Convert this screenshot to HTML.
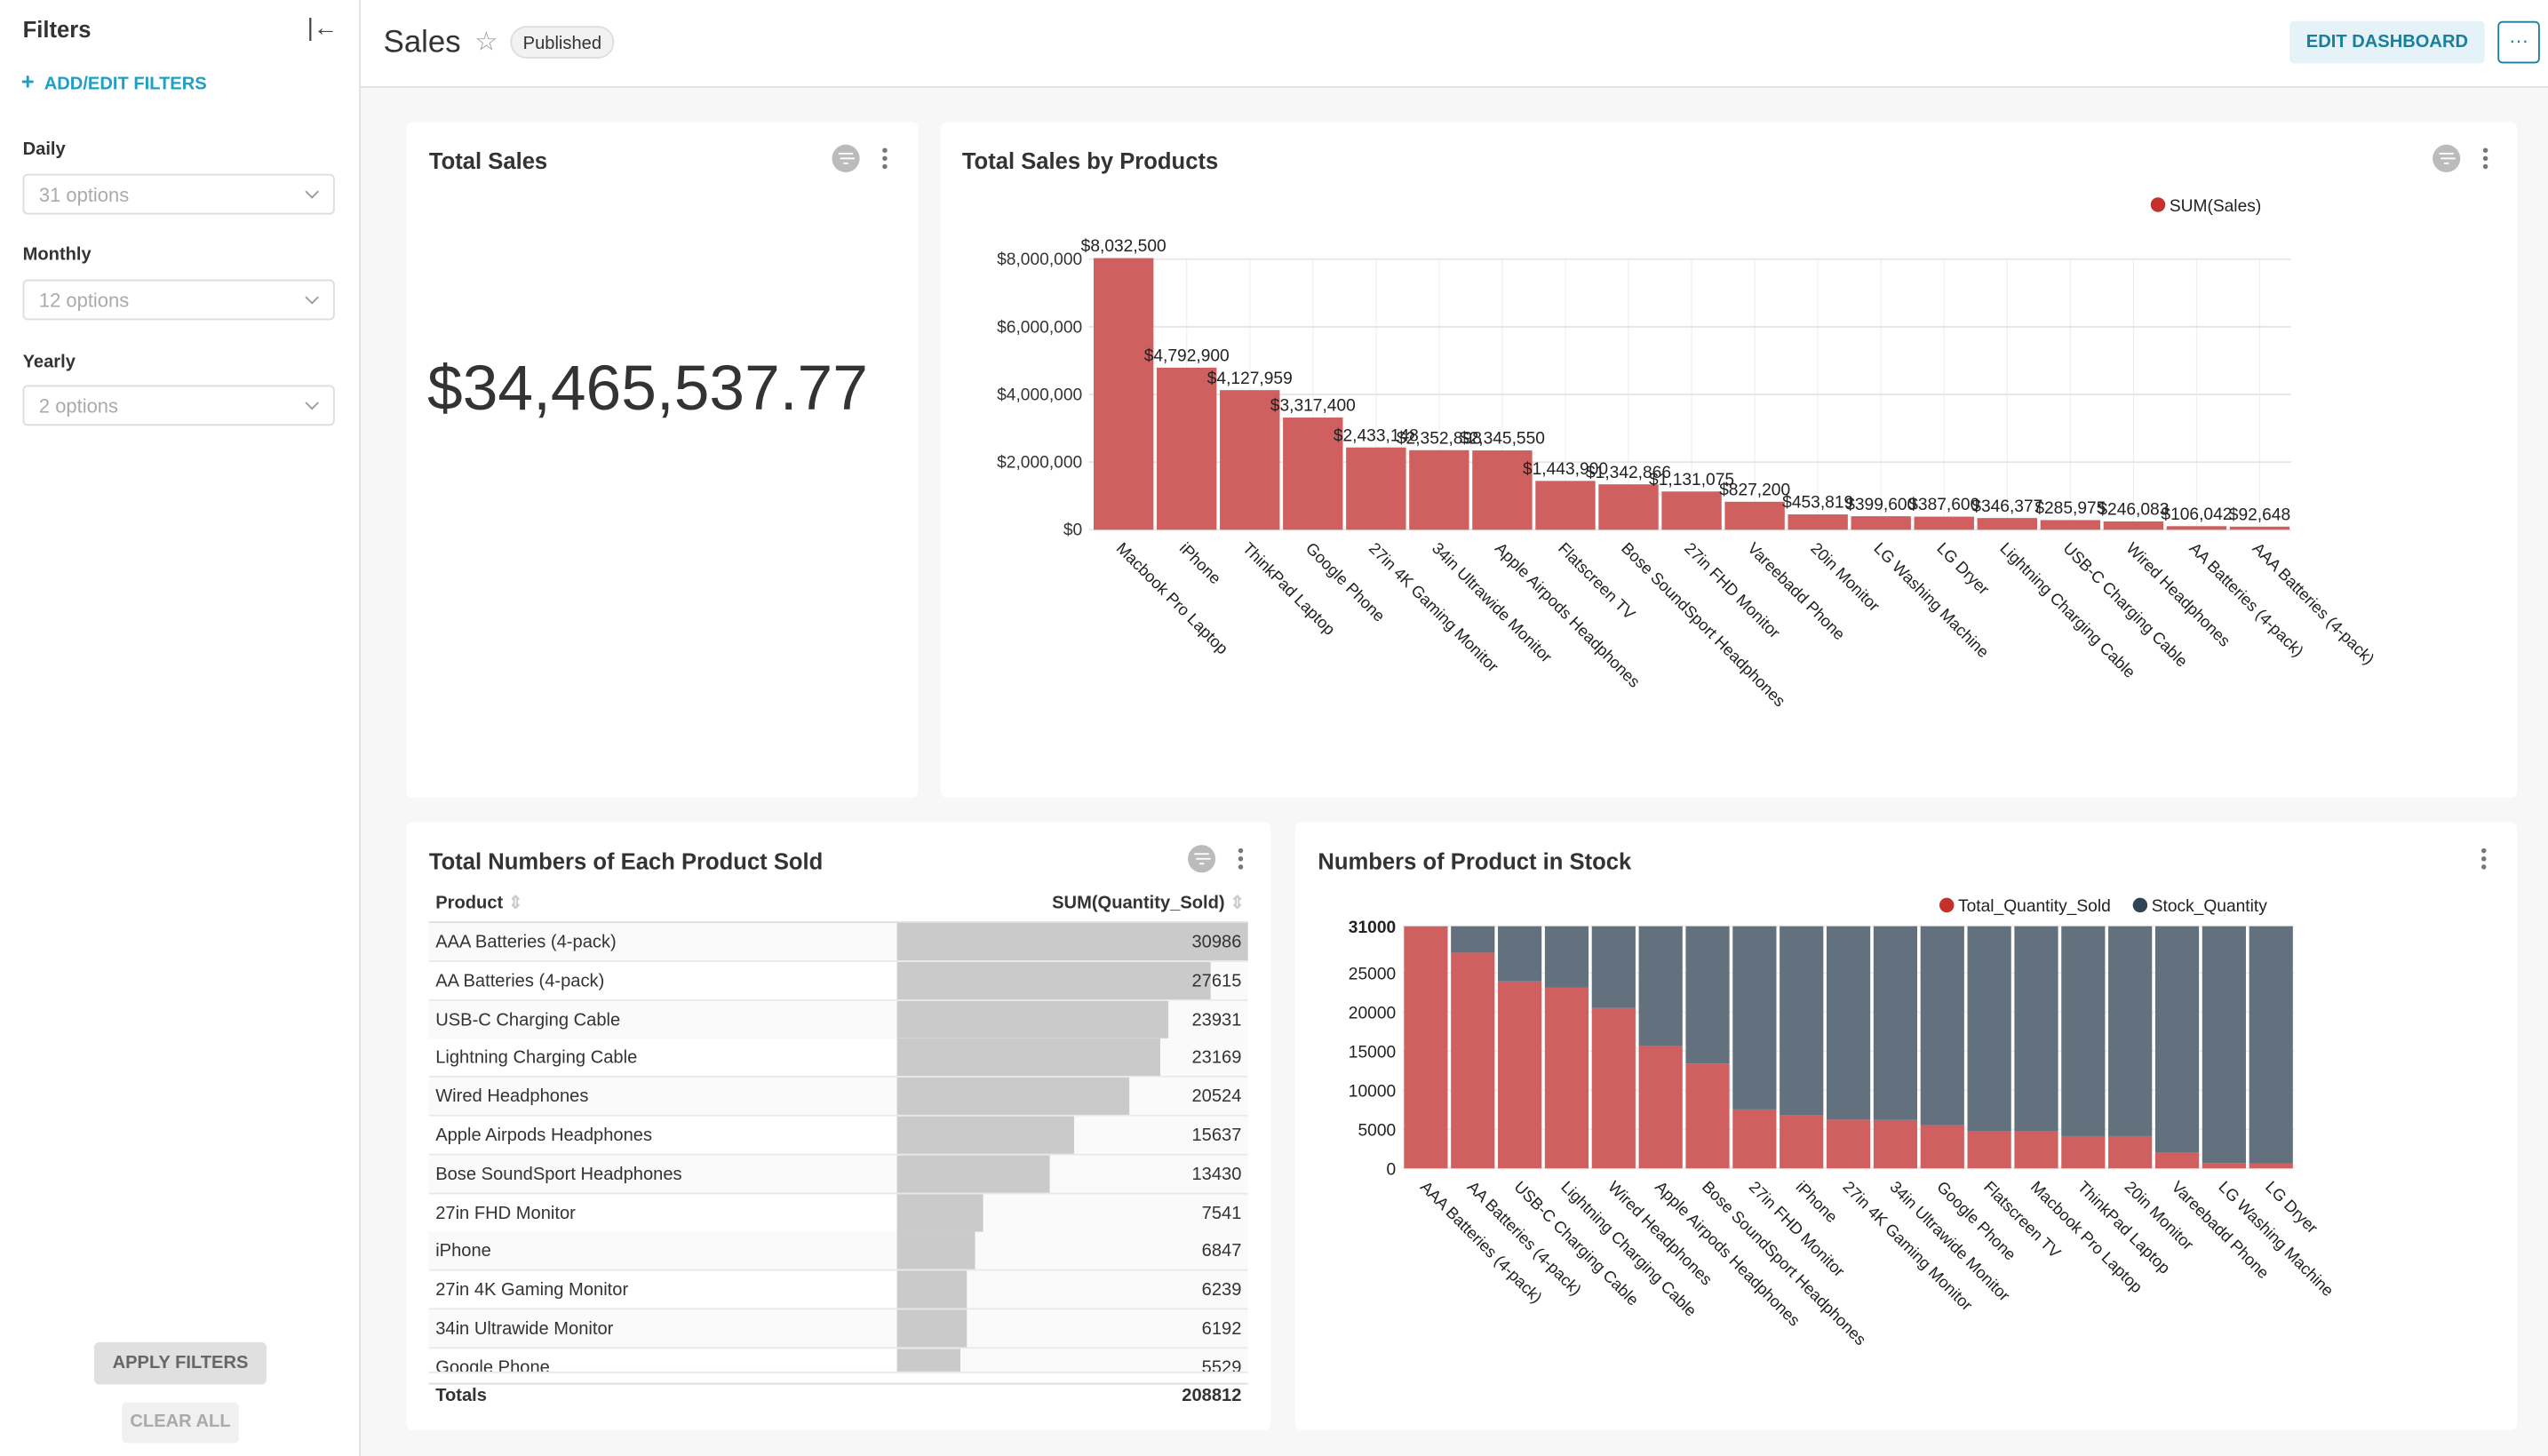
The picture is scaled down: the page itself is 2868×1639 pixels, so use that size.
<!DOCTYPE html>
<html><head><meta charset="utf-8">
<style>
html,body{margin:0;padding:0;width:2868px;height:1639px;overflow:hidden;background:#f7f7f7;font-family:"Liberation Sans",sans-serif;}
#root{position:absolute;left:0;top:0;width:1568px;height:896px;transform:scale(1.82908,1.82924);transform-origin:0 0;background:#f7f7f7;}
.abs{position:absolute;}
.card{position:absolute;background:#fff;border-radius:4px;}
.title{position:absolute;font-size:14px;font-weight:bold;color:#333;}
.sel{position:absolute;left:14px;width:192px;height:25px;border:1px solid #ddd;border-radius:3px;background:#fff;font-size:12px;color:#aaa;box-sizing:border-box;padding:5px 9px;}
.sel:after{content:"";position:absolute;right:10px;top:7px;width:5px;height:5px;border-right:1px solid #999;border-bottom:1px solid #999;transform:rotate(45deg);}
.lab{position:absolute;left:14px;font-size:11px;font-weight:bold;color:#333;}
.dots{position:absolute;width:3px;}
.dots i{display:block;width:3px;height:3px;border-radius:50%;background:#777;margin-bottom:2px;}
.ficon{position:absolute;width:17px;height:17px;border-radius:50%;background:#bbb;}
.ficon:before{content:"";position:absolute;left:4px;top:5px;width:9px;height:1.3px;background:#fff;box-shadow:1px 3px 0 -0px #fff;}
.ficon:after{content:"";position:absolute;left:7px;top:11px;width:3px;height:1.3px;background:#fff;}
.row{position:absolute;left:264px;width:504px;height:23px;border-bottom:1px solid #e8e8e8;font-size:11px;color:#333;}
</style></head><body>
<div id="root">
<div class="abs" style="left:0;top:0;width:221px;height:896px;background:#fff;border-right:1px solid #e0e0e0;">
  <div class="abs" style="left:14px;top:10px;font-size:14px;font-weight:bold;color:#333;">Filters</div>
  <div class="abs" style="left:189px;top:9px;font-size:15px;color:#444;">|&#8592;</div>
  <div class="abs" style="left:13px;top:42px;font-size:11px;font-weight:bold;color:#1f9fc4;"><span style="font-size:14px;margin-right:6px;">+</span>ADD/EDIT FILTERS</div>
  <div class="lab" style="top:86px;">Daily</div>
  <div class="sel" style="top:107px;">31 options</div>
  <div class="lab" style="top:151px;">Monthly</div>
  <div class="sel" style="top:172px;">12 options</div>
  <div class="lab" style="top:217px;">Yearly</div>
  <div class="sel" style="top:237px;">2 options</div>
  <div class="abs" style="left:58px;top:826px;width:106px;height:26px;background:#e0e0e0;border-radius:3px;font-size:11px;font-weight:bold;color:#666;text-align:center;line-height:26px;">APPLY FILTERS</div>
  <div class="abs" style="left:75px;top:863px;width:72px;height:25px;background:#f0f0f0;border-radius:3px;font-size:11px;font-weight:bold;color:#aaa;text-align:center;line-height:25px;">CLEAR ALL</div>
</div>
<div class="abs" style="left:222px;top:0;width:1346px;height:53px;background:#fff;border-bottom:1px solid #e0e0e0;">
  <div class="abs" style="left:14px;top:16px;font-size:19px;color:#333;">Sales</div>
  <div class="abs" style="left:70px;top:16px;font-size:16px;color:#999;">&#9734;</div>
  <div class="abs" style="left:92px;top:16px;width:64px;height:20px;border:1px solid #ddd;background:#f2f2f2;border-radius:10px;font-size:11px;color:#333;text-align:center;line-height:20px;box-sizing:border-box;">Published</div>
  <div class="abs" style="left:1187px;top:13px;width:120px;height:26px;background:#e5f3f8;border-radius:3px;font-size:11px;font-weight:bold;color:#1a7f9e;text-align:center;line-height:26px;">EDIT DASHBOARD</div>
  <div class="abs" style="left:1315px;top:13px;width:26px;height:26px;border:1px solid #1a7f9e;border-radius:3px;box-sizing:border-box;font-size:12px;color:#1a7f9e;text-align:center;line-height:22px;">&#183;&#183;&#183;</div>
</div>
<div class="card" style="left:250px;top:75px;width:315px;height:416px;">
  <div class="title" style="left:14px;top:16px;">Total Sales</div>
  <div class="ficon" style="left:262px;top:14px;"></div>
  <div class="dots" style="left:293px;top:16px;"><i></i><i></i><i></i></div>
  <div class="abs" style="left:13px;top:143px;font-size:39px;color:#333;">$34,465,537.77</div>
</div>
<div class="card" style="left:579px;top:75px;width:970px;height:416px;">
  <div class="title" style="left:13px;top:16px;">Total Sales by Products</div>
  <div class="ficon" style="left:918px;top:14px;"></div>
  <div class="dots" style="left:949px;top:16px;"><i></i><i></i><i></i></div>
</div>
<div class="card" style="left:250px;top:506px;width:532px;height:374px;overflow:hidden;">
  <div class="title" style="left:14px;top:16px;">Total Numbers of Each Product Sold</div>
  <div class="ficon" style="left:481px;top:14px;"></div>
  <div class="dots" style="left:512px;top:16px;"><i></i><i></i><i></i></div>
</div>
<div id="tbl"></div>
<div class="card" style="left:797px;top:506px;width:752px;height:374px;">
  <div class="title" style="left:14px;top:16px;">Numbers of Product in Stock</div>
  <div class="dots" style="left:730px;top:16px;"><i></i><i></i><i></i></div>
</div>
<svg id="svg" class="abs" style="left:0;top:0;" width="1568" height="896"></svg>
</div>
<script>
const salesCats=["Macbook Pro Laptop","iPhone","ThinkPad Laptop","Google Phone","27in 4K Gaming Monitor","34in Ultrawide Monitor","Apple Airpods Headphones","Flatscreen TV","Bose SoundSport Headphones","27in FHD Monitor","Vareebadd Phone","20in Monitor","LG Washing Machine","LG Dryer","Lightning Charging Cable","USB-C Charging Cable","Wired Headphones","AA Batteries (4-pack)","AAA Batteries (4-pack)"];
const salesVals=[8032500,4792900,4127959,3317400,2433148,2352898,2345550,1443900,1342866,1131075,827200,453819,399600,387600,346377,285975,246083,106042,92648];
const salesTicks=[0,2000000,4000000,6000000,8000000];
const tableCats=["AAA Batteries (4-pack)","AA Batteries (4-pack)","USB-C Charging Cable","Lightning Charging Cable","Wired Headphones","Apple Airpods Headphones","Bose SoundSport Headphones","27in FHD Monitor","iPhone","27in 4K Gaming Monitor","34in Ultrawide Monitor","Google Phone"];
const tableVals=[30986,27615,23931,23169,20524,15637,13430,7541,6847,6239,6192,5529];
const stockCats=["AAA Batteries (4-pack)","AA Batteries (4-pack)","USB-C Charging Cable","Lightning Charging Cable","Wired Headphones","Apple Airpods Headphones","Bose SoundSport Headphones","27in FHD Monitor","iPhone","27in 4K Gaming Monitor","34in Ultrawide Monitor","Google Phone","Flatscreen TV","Macbook Pro Laptop","ThinkPad Laptop","20in Monitor","Vareebadd Phone","LG Washing Machine","LG Dryer"];
const soldVals=[30986,27615,23931,23169,20524,15637,13430,7541,6847,6239,6192,5529,4800,4728,4130,4129,2068,666,646];
const stockVals=[14,3385,7069,7831,10476,15363,17570,23459,24153,24761,24808,25471,26200,26272,26870,26871,28932,30334,30354];
const stockTicks=[0,5000,10000,15000,20000,25000,31000];

const NS="http://www.w3.org/2000/svg";
const svg=document.getElementById('svg');
function mk(tag,attrs,parent){const e=document.createElementNS(NS,tag);for(const k in attrs)e.setAttribute(k,attrs[k]);(parent||svg).appendChild(e);return e;}
function fmt(v){return "$"+v.toLocaleString("en-US");}

const sx0=672,sx1=1410,sy0=326,sy1=159.5,smax=8000000;
const sY=v=>sy0-(v/smax)*(sy0-sy1);
const sBW=(sx1-sx0)/salesCats.length;
const sX=i=>sx0+i*sBW;
for(let i=0;i<salesCats.length;i++){const l=mk('line',{x1:sX(i)+sBW/2,x2:sX(i)+sBW/2,y1:sy1,y2:sy0,stroke:'#eee','stroke-width':0.6});

}
salesTicks.forEach(t=>{const l=mk('line',{x1:sx0-2,x2:sx1,y1:sY(t),y2:sY(t),stroke:'#e6e6e6','stroke-width':1});


const tx=mk('text',{x:sx0-6,y:sY(t)+3.5,'text-anchor':'end','font-size':10.5,fill:'#333'});tx.textContent=fmt(t);

});
salesVals.forEach((v,i)=>{const r=mk('rect',{x:sX(i)+1,y:sY(v),width:sBW-2,height:sy0-sY(v),fill:'#d0605f'});


const t=mk('text',{x:sX(i)+sBW/2,y:sY(v)-4,'text-anchor':'middle','font-size':10.5,fill:'#222'});t.textContent=fmt(v);


const c=mk('text',{x:0,y:0,'font-size':10,fill:'#222',transform:`translate(${sX(i)+sBW/2-5},${sy0+12}) rotate(45)`});c.textContent=salesCats[i];

});
let lg=mk('circle',{cx:1328,cy:126,r:4.5,fill:'#c6302b'});


let lt=mk('text',{x:1335,y:130,'font-size':10.5,fill:'#222'});lt.textContent='SUM(Sales)';



const kx0=863,kx1=1412,ky0=719,ky1=570,kmax=31000;
const kY=v=>ky0-(v/kmax)*(ky0-ky1);
const kBW=(kx1-kx0)/stockCats.length;
const kX=i=>kx0+i*kBW;
stockTicks.forEach(t=>{const l=mk('line',{x1:kx0,x2:kx1,y1:kY(t),y2:kY(t),stroke:'#eee','stroke-width':1});


const tx=mk('text',{x:kx0-4,y:kY(t)+4,'text-anchor':'end','font-size':10.5,fill:'#222','font-weight':t===31000?'bold':'normal'});tx.textContent=t;

});
stockCats.forEach((c,i)=>{const s=soldVals[i],k=stockVals[i];
const r1=mk('rect',{x:kX(i)+1,y:kY(s),width:kBW-2,height:ky0-kY(s),fill:'#d0605f'});


const r2=mk('rect',{x:kX(i)+1,y:kY(s+k),width:kBW-2,height:kY(s)-kY(s+k),fill:'#63717e'});


const t=mk('text',{x:0,y:0,'font-size':10,fill:'#222',transform:`translate(${kX(i)+kBW/2-4},${ky0+12}) rotate(45)`});t.textContent=c;

});
lg=mk('circle',{cx:1198,cy:557,r:4.5,fill:'#c6302b'});


lt=mk('text',{x:1205,y:561,'font-size':10.5,fill:'#222'});lt.textContent='Total_Quantity_Sold';


lg=mk('circle',{cx:1317,cy:557,r:4.5,fill:'#2f4555'});


lt=mk('text',{x:1324,y:561,'font-size':10.5,fill:'#222'});lt.textContent='Stock_Quantity';



const root=document.getElementById('root');
const tb=document.getElementById('tbl');
let h=document.createElement('div');


h.className='abs';h.style.cssText='left:264px;top:547px;width:504px;height:20px;border-bottom:1px solid #ddd;font-size:11px;font-weight:bold;color:#333;';
h.innerHTML='<span style="position:absolute;left:4px;top:2px;">Product <span style="color:#ccc">&#8661;</span></span><span style="position:absolute;right:2px;top:2px;">SUM(Quantity_Sold) <span style="color:#ccc">&#8661;</span></span>';
root.appendChild(h);
const bmax=30986,bw=216;
tableCats.forEach((c,i)=>{const r=document.createElement('div');


r.className='row';const top=568+i*23.8;r.style.top=top+'px';
if(i===11){r.style.height='14px';r.style.overflow='hidden';}
r.style.background=i%2===0?'#fafafa':'#fff';
r.innerHTML=`<div style="position:absolute;left:288px;top:0;width:${bw}px;height:100%;background:#fafafa"></div><div style="position:absolute;left:288px;top:0;width:${tableVals[i]/bmax*bw}px;height:100%;background:#cacaca"></div><span style="position:absolute;left:4px;top:6px;">${c}</span><span style="position:absolute;right:4px;top:6px;">${tableVals[i]}</span>`;
root.insertBefore(r,tb);});
const tot=document.createElement('div');


tot.className='abs';tot.style.cssText='left:264px;top:851px;width:504px;height:16px;border-top:1px solid #ddd;font-size:11px;font-weight:bold;color:#333;';
tot.innerHTML='<span style="position:absolute;left:4px;top:1px;">Totals</span><span style="position:absolute;right:4px;top:1px;">208812</span>';
root.insertBefore(tot,tb);
</script>
</body></html>
